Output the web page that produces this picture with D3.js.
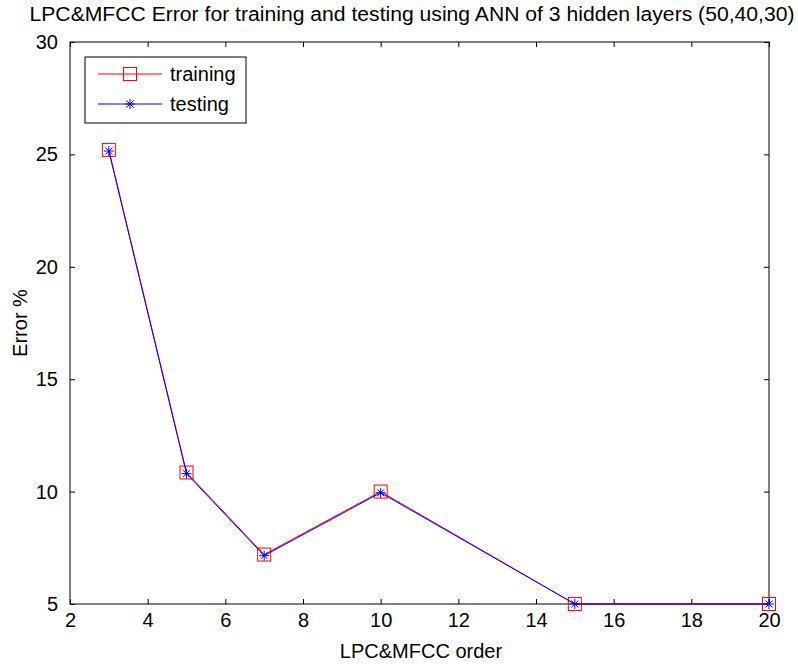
<!DOCTYPE html>
<html>
<head>
<meta charset="utf-8">
<script src="https://cdn.jsdelivr.net/npm/d3@7"></script>
<style>
  body { margin: 0; background: #fff; }
  text { font-family: "Liberation Sans", Arial, sans-serif; }
</style>
</head>
<body>
<svg width="798" height="664"></svg>
<script>
var orders = [3, 5, 7, 10, 15, 20];
var training = [25.2, 10.85, 7.2, 10.0, 5.0, 5.0];
var testing = [25.15, 10.8, 7.15, 9.95, 5.0, 5.0];
var xTicks = [2, 4, 6, 8, 10, 12, 14, 16, 18, 20];
var yTicks = [5, 10, 15, 20, 25, 30];

var svg = d3.select("svg");
var margin = {left: 70, right: 29, top: 42, bottom: 60};
var width = 798 - margin.left - margin.right,
    height = 664 - margin.top - margin.bottom;

var x = d3.scaleLinear().domain([2, 20]).range([0, width]);
var y = d3.scaleLinear().domain([5, 30]).range([height, 0]);

var g = svg.append("g").attr("transform", "translate(" + margin.left + "," + margin.top + ")");

// box
g.append("rect").attr("width", width).attr("height", height)
    .attr("fill", "none").attr("stroke", "#000").attr("stroke-width", 1);

// axes, ticks pointing in
var fs = "20px";
var xb = g.append("g").attr("transform", "translate(0," + height + ")")
    .call(d3.axisBottom(x).tickValues(xTicks).tickSizeInner(-5).tickSizeOuter(0).tickPadding(9));
var xt = g.append("g").call(d3.axisTop(x).tickValues(xTicks).tickSizeInner(-5).tickSizeOuter(0).tickFormat(""));
var yl = g.append("g").call(d3.axisLeft(y).tickValues(yTicks).tickSizeInner(-5).tickSizeOuter(0).tickPadding(12));
var yr = g.append("g").attr("transform", "translate(" + width + ",0)")
    .call(d3.axisRight(y).tickValues(yTicks).tickSizeInner(-5).tickSizeOuter(0).tickFormat(""));
[xb, xt, yl, yr].forEach(function(a) {
  a.select(".domain").remove();
  a.selectAll("text").attr("font-size", fs).attr("fill", "#000")
    .style("font-family", "'Liberation Sans', Arial, sans-serif");
});

// lines
var line = function(vals) {
  return d3.line().x(function(d, i) { return x(orders[i]); }).y(function(d) { return y(d); })(vals);
};
g.append("path").attr("d", line(training)).attr("fill", "none").attr("stroke", "#ff0000").attr("stroke-width", 1);
g.selectAll(".sq").data(training).enter().append("rect")
    .attr("x", function(d, i) { return x(orders[i]) - 6.5; })
    .attr("y", function(d) { return y(d) - 6.5; })
    .attr("width", 13).attr("height", 13)
    .attr("fill", "none").attr("stroke", "#ff0000").attr("stroke-width", 1);

g.append("path").attr("d", line(testing)).attr("fill", "none").attr("stroke", "#0000ff").attr("stroke-width", 1);

function star(sel, cx, cy, r) {
  var s = sel.append("g").attr("transform", "translate(" + cx + "," + cy + ")")
      .attr("stroke", "#0000ff").attr("stroke-width", 1);
  s.append("line").attr("x1", -r).attr("x2", r).attr("y1", 0).attr("y2", 0);
  s.append("line").attr("y1", -r).attr("y2", r).attr("x1", 0).attr("x2", 0);
  s.append("line").attr("x1", -r * 0.7).attr("x2", r * 0.7).attr("y1", -r * 0.7).attr("y2", r * 0.7);
  s.append("line").attr("x1", -r * 0.7).attr("x2", r * 0.7).attr("y1", r * 0.7).attr("y2", -r * 0.7);
}
testing.forEach(function(d, i) { star(g, x(orders[i]), y(d), 5); });

// legend
var lg = svg.append("g").attr("transform", "translate(85,57)");
lg.append("rect").attr("width", 161).attr("height", 66).attr("fill", "#fff").attr("stroke", "#000");
lg.append("line").attr("x1", 13).attr("x2", 77).attr("y1", 17).attr("y2", 17).attr("stroke", "#ff0000");
lg.append("rect").attr("x", 38.5).attr("y", 10.5).attr("width", 13).attr("height", 13)
    .attr("fill", "none").attr("stroke", "#ff0000");
lg.append("line").attr("x1", 13).attr("x2", 77).attr("y1", 47).attr("y2", 47).attr("stroke", "#0000ff");
star(lg, 45, 47, 5);
lg.append("text").attr("x", 85).attr("y", 24).attr("font-size", fs).text("training");
lg.append("text").attr("x", 85).attr("y", 54).attr("font-size", fs).text("testing");

// titles
svg.append("text").attr("x", 412).attr("y", 21).attr("text-anchor", "middle")
    .attr("font-size", "20px").attr("textLength", 765).attr("lengthAdjust", "spacingAndGlyphs")
    .text("LPC&MFCC Error for training and testing using ANN of 3 hidden layers (50,40,30)");
svg.append("text").attr("x", 421).attr("y", 658).attr("text-anchor", "middle")
    .attr("font-size", "20px").text("LPC&MFCC order");
svg.append("text").attr("transform", "translate(27,323) rotate(-90)").attr("text-anchor", "middle")
    .attr("font-size", "20px").text("Error %");
</script>
</body>
</html>
